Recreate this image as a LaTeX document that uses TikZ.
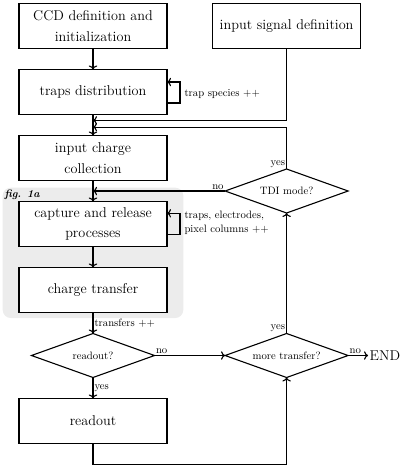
\documentclass[tikz,border=0pt]{standalone}
\usepackage{fontspec}
\usepackage{tikz}
\usetikzlibrary{shapes.geometric,arrows.meta,positioning,calc}

\begin{document}
\begin{tikzpicture}[
    x=1pt, y=-1pt,
    node distance=21pt,
    line width=1.1pt,
    font=\fontsize{14.2}{20.5}\selectfont,
    stage/.style={rectangle, draw, fill=white, minimum width=148pt, minimum height=45pt, inner sep=0pt, outer sep=0pt, align=center},
    query/.style={diamond, draw, aspect=2.8, inner sep=0pt, outer sep=0pt, minimum width=123pt, minimum height=44pt, font=\fontsize{10.7}{14.6}\selectfont},
    note/.style={font=\fontsize{10.7}{14.6}\selectfont, inner sep=1pt},
    arrow/.style={->, >=To}
]
    \useasboundingbox (0,0) rectangle (407,467);

    % fig. 1a block
    \fill[gray!15, rounded corners=8pt] (2.7,187.7) rectangle (183.3,318);
    \node[note, anchor=west, font=\fontsize{10.7}{14.6}\selectfont\bfseries\itshape] (figlabel) at (3,195) {fig. 1a};

    % main column
    \node[stage] (ccd) at (93,26) {CCD definition and\\initialization};
    \node[stage, right=45.6pt of ccd] (signal) {input signal definition};
    \node[stage, below=of ccd] (traps) {traps distribution};
    \node[stage, below=of traps] (collect) {input charge\\collection};
    \node[stage, below=of collect] (capture) {capture and release\\processes};
    \node[stage, below=of capture] (transfer) {charge transfer};
    \node[query, below=of transfer] (isread) {readout?};
    \node[stage, below=of isread] (readout) {readout};

    % decisions on the right
    \node[query] (more) at (signal |- isread) {more transfer?};
    \node[query] (tdi) at ($(signal |- collect.south)!0.5!(signal |- capture.north)$) {TDI mode?};
    \node[inner sep=1pt, right=20pt of more] (end) {END};

    \coordinate (join1) at ($(traps.south)!0.28!(collect.north)$);
    \coordinate (join2) at ($(traps.south)!0.6!(collect.north)$);

    \draw[arrow] (ccd) -- (traps);
    \draw[arrow] (traps) -- (collect);
    \draw[arrow] (signal.south) |- (join1);
    \draw[arrow] (tdi.north) |- node[note, pos=0, above left=0pt] {yes} (join2);

    % loops
    \draw[arrow] ($(traps.east)+(0,11)$) -- ++(13,0) -- ++(0,-21) -- ($(traps.east)+(0,-10)$);
    \node[note, anchor=west] (speciesnote) at (183,94.5) {trap species ++};
    \draw[arrow] ($(capture.east)+(0,10.3)$) -- ++(13,0) -- ++(0,-21) -- ($(capture.east)+(0,-10.7)$);
    \node[note, anchor=west, align=left] (loopnote) at (183,223) {traps, electrodes,\\pixel columns ++};

    \draw[arrow] (collect) -- (capture);
    \draw[arrow] (tdi.west) -- node[note, pos=0, above left=0pt] {no} (tdi.west -| capture.north);
    \draw[arrow] (capture) -- (transfer);
    \draw[arrow] (transfer) -- node[note, right] {transfers ++} (isread);
    \draw[arrow] (isread) -- node[note, right] {yes} (readout);
    \draw[arrow] (isread.east) -- node[note, pos=0, above right=0pt] {no} (more.west);
    \draw[arrow] (more.north) -- node[note, pos=0, above left=0pt] {yes} (tdi.south);
    \draw[arrow] (more.east) -- node[note, pos=0, above right=0pt] {no} (end.west);
    \draw[arrow] (readout.south) -- ++(0,21) -| (more.south);
\end{tikzpicture}
\end{document}
